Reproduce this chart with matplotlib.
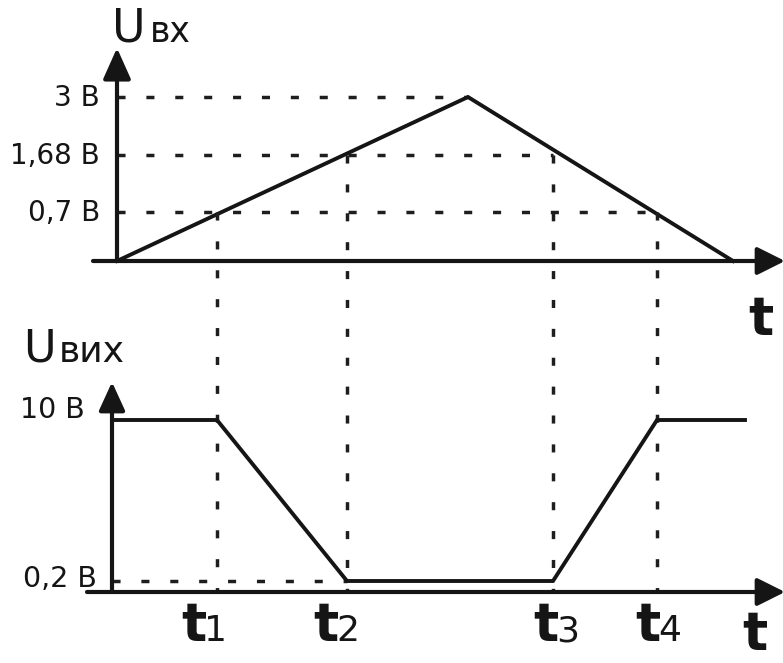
import matplotlib.pyplot as plt

plt.rcParams['font.family'] = ['DejaVu Sans']
plt.rcParams['lines.scale_dashes'] = False

# schematic units: time and level both roughly in screen pixels of the original
# input signal (triangle)
in_t = [0, 351, 616]
in_v = [0, 164, 0]
in_levels = [164, 106, 49]
in_labels = ['3 В', '1,68 В', '0,7 В']
in_level_ends = [351, 436, 540]   # where each dashed level meets the ramp

# switching moments t1..t4 and the input level they come from
t_marks = [100, 230, 436, 540]
t_names = ['1', '2', '3', '4']
t_levels = [49, 106, 106, 49]

# output signal
out_t = [-5, 100, 230, 436, 540, 628]
out_v = [172, 172, 11, 11, 172, 172]
out_levels = [172, 11]
out_labels = ['10 В', '0,2 В']

ink = '#151515'
dash_col = '#1e1e1e'
dash = (5.8, 15.0)

fig = plt.figure(figsize=(7.83, 6.63), dpi=100)
ax_in = fig.add_axes([0, 363 / 663, 1, 300 / 663])
ax_out = fig.add_axes([0, 0, 1, 363 / 663])
for ax in (ax_in, ax_out):
    ax.set_xlim(-117, 666)
    ax.axis('off')
ax_in.set_ylim(-39, 261)
ax_out.set_ylim(-71, 292)


def arrow(ax, start, tip, hl, hw):
    ax.annotate('', xy=tip, xytext=start, annotation_clip=False,
                arrowprops=dict(arrowstyle='-|>,head_length=%g,head_width=%g' % (hl, hw),
                                lw=3, color=ink, shrinkA=0, shrinkB=0, mutation_scale=10))


# --- input plot ---
arrow(ax_in, (-24, 0), (668, 0), 1.7, 0.85)
arrow(ax_in, (0, 0), (0, 213), 1.9, 0.85)
ax_in.plot(in_t, in_v, color=ink, lw=2.8, solid_joinstyle='miter', zorder=3)
for lvl, lab, end in zip(in_levels, in_labels, in_level_ends):
    ax_in.plot([0, end], [lvl, lvl], color=dash_col, lw=2.5, dashes=dash, zorder=2)
    ax_in.text(-17, lvl - 9, lab, ha='right', va='baseline', fontsize=20, color=ink)
ax_in.text(-5, 219, 'U', ha='left', va='baseline', fontsize=33, color=ink)
ax_in.text(33, 219, 'вх', ha='left', va='baseline', fontsize=25, color=ink)
ax_in.text(644, -74, 't', ha='center', va='baseline', fontsize=38, weight='bold', color=ink)

# --- output plot ---
arrow(ax_out, (-30, 0), (668, 0), 1.7, 0.85)
arrow(ax_out, (-5, 0), (-5, 210), 1.75, 0.8)
ax_out.plot(out_t, out_v, color=ink, lw=2.8, solid_joinstyle='miter', zorder=3)
ax_out.plot([-5, t_marks[1]], [out_levels[1], out_levels[1]], color=dash_col, lw=2.5,
            dashes=dash, zorder=2)
ax_out.text(-32, out_levels[0] + 2, out_labels[0], ha='right', va='baseline',
            fontsize=20.5, color=ink)
ax_out.text(-20, out_levels[1] - 6, out_labels[1], ha='right', va='baseline',
            fontsize=20.5, color=ink)
ax_out.text(-94, 230, 'U', ha='left', va='baseline', fontsize=32, color=ink)
ax_out.text(-58, 230, 'вих', ha='left', va='baseline', fontsize=26, color=ink)
ax_out.text(638, -58, 't', ha='center', va='baseline', fontsize=38, weight='bold', color=ink)

# vertical guides from the input crossing down to the output time axis
to_out = ax_in.transData + ax_out.transData.inverted()
label_shift = [-11, -9, 5, 3]
for t, lvl, name, sh in zip(t_marks, t_levels, t_names, label_shift):
    top = to_out.transform((t, lvl))[1]
    ax_out.plot([t, t], [top, 0], color=dash_col, lw=2.5, dashes=dash, zorder=2, clip_on=False)
    ax_out.text(t + sh, -49, 't', ha='right', va='baseline', fontsize=38, weight='bold', color=ink)
    ax_out.text(t + sh - 2, -49, name, ha='left', va='baseline', fontsize=26, color=ink)

fig.savefig('out.png', dpi=100)
